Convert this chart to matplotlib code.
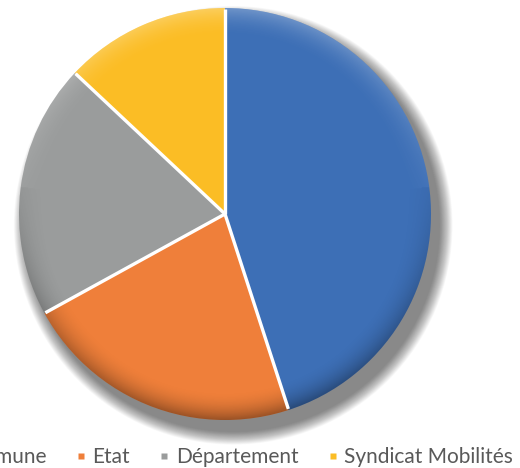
import numpy as np
import matplotlib
matplotlib.use("Agg")
import matplotlib.pyplot as plt
from matplotlib.patches import Circle
from matplotlib.lines import Line2D

categories = ["Commune", "Etat", "Département", "Syndicat Mobilités"]
values = [45, 22, 20, 13]
colors = ["#3D6FB6", "#EF7F3A", "#9A9C9C", "#FBBD25"]

plt.rcParams['font.family'] = ['Lato', 'DejaVu Sans']

W, H = 520, 468
fig = plt.figure(figsize=(W / 100, H / 100), dpi=100)
cx, cy, R = 225, 214, 206
ax = fig.add_axes([(cx - R) / W, (H - cy - R) / H, 2 * R / W, 2 * R / H])

# soft drop shadow
n = 28
for i in range(n):
    rr = 1.0 + 0.065 * (1 - i / n)
    ax.add_patch(Circle((0.04, -0.055), rr, facecolor='black', alpha=0.02,
                        edgecolor='none', zorder=0, clip_on=False))

wedges, _ = ax.pie(values, colors=colors, startangle=90, counterclock=False,
                   radius=1.0, center=(0, 0),
                   wedgeprops=dict(edgecolor='none', linewidth=0))
for w in wedges:
    w.set_zorder(2)

# bevel shading overlay
N = 400
g = np.linspace(-1, 1, N)
X, Y = np.meshgrid(g, g)
Rr = np.sqrt(X ** 2 + Y ** 2)
edge = np.clip((Rr - 0.86) / 0.14, 0, 1) ** 2
ang = np.arctan2(Y, X)
dark = edge * np.clip(-np.sin(ang) * 0.8 + 0.2, 0, 1) * 0.35
light = edge * np.clip(np.sin(ang), 0, 1) * 0.25
rgba = np.zeros((N, N, 4))
rgba[..., :3] = np.where((dark > light)[..., None], 0.0, 1.0)
rgba[..., 3] = np.maximum(dark, light)
im = ax.imshow(rgba, extent=(-1, 1, -1, 1), origin='lower', zorder=3,
               interpolation='bilinear')
im.set_clip_path(Circle((0, 0), 1.0, transform=ax.transData))

# white separators between slices
bounds = np.concatenate([[0], np.cumsum(values)]) / np.sum(values)
for b in bounds[:-1]:
    th = np.deg2rad(90 - 360 * b)
    ax.plot([0, 0.995 * np.cos(th)], [0, 0.995 * np.sin(th)], color='white',
            linewidth=2.4, solid_capstyle='butt', zorder=4)

ax.set_xlim(-1, 1)
ax.set_ylim(-1, 1)
ax.set_aspect('equal')
ax.axis('off')

handles = [Line2D([], [], marker='s', linestyle='none', markersize=5,
                  markerfacecolor=c, markeredgecolor='none') for c in colors]
leg = fig.legend(handles, categories, loc='center right', ncol=4,
                 bbox_to_anchor=(513 / W, 1 - 457 / H), frameon=False,
                 fontsize=15, handlelength=0.4, handletextpad=0.35,
                 columnspacing=1.45, borderpad=0, borderaxespad=0,
                 labelcolor='#595959')

fig.savefig("out.png", dpi=100)
